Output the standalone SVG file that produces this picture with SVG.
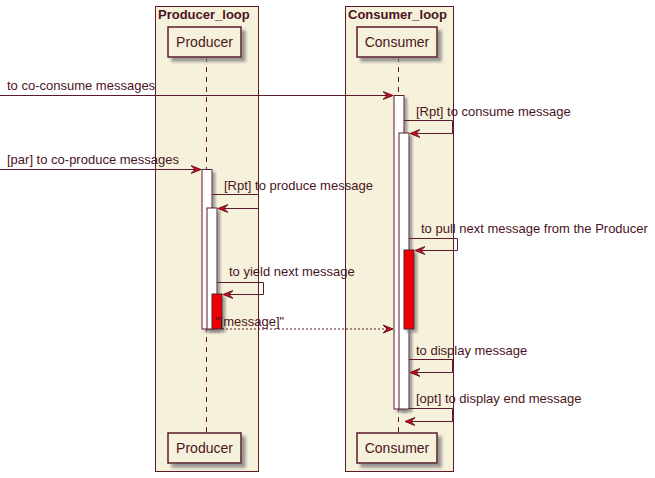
<svg xmlns="http://www.w3.org/2000/svg" width="655" height="478" viewBox="0 0 655 478">
<style>
.box{fill:#F6F1DB;stroke:#5b1a2e;stroke-width:1}
.title{font-family:"Liberation Sans",Arial,sans-serif;font-size:13px;font-weight:bold;fill:#4a1422}
.part{fill:#F6F1DB;stroke:#5b1a2e;stroke-width:1.5;filter:url(#sh)}
.ptext{font-family:"Liberation Sans",Arial,sans-serif;font-size:14px;fill:#4a1422;text-anchor:middle}
.life{stroke:#5b1a2e;stroke-width:1;stroke-dasharray:5,5;fill:none}
.act{fill:#FFFFFF;stroke:#5b1a2e;stroke-width:1;filter:url(#sh2)}
.actr{fill:#EE0000;stroke:#5b1a2e;stroke-width:1;filter:url(#sh2)}
.msg{stroke:#5b1a2e;stroke-width:1;fill:none;marker-end:url(#ah)}
.dash{stroke-dasharray:2,2}
.mtext{font-family:"Liberation Sans",Arial,sans-serif;font-size:13px;fill:#4a1422}
</style>
<defs>
<filter id="sh" x="-20%" y="-20%" width="150%" height="150%">
<feDropShadow dx="4" dy="4" stdDeviation="1.5" flood-color="#808080" flood-opacity="0.8"/>
</filter>
<filter id="sh2" x="-50%" y="-10%" width="200%" height="130%">
<feDropShadow dx="3" dy="3" stdDeviation="1" flood-color="#808080" flood-opacity="0.7"/>
</filter>
<marker id="ah" markerUnits="userSpaceOnUse" markerWidth="12" markerHeight="10" viewBox="0 -5 12 10" refX="10" refY="0" orient="auto">
<path d="M0,-4 L10,0 L0,4 L4,0 Z" fill="#E00010" stroke="#5b1a2e" stroke-width="1"/>
</marker>
</defs>
<rect width="655" height="478" fill="#FFFFFF"/>
<g id="Producer_loop">
<rect class="box" x="155.5" y="6.5" width="103" height="465"/>
<text class="title" x="158" y="19">Producer_loop</text>
</g>
<g id="Consumer_loop">
<rect class="box" x="345.5" y="6.5" width="108" height="465"/>
<text class="title" x="348" y="19">Consumer_loop</text>
</g>
<g id="Producer">
<line class="life" x1="206.5" y1="57" x2="206.5" y2="433"/>
<rect class="part" x="168" y="27" width="73" height="30"/>
<text class="ptext" x="204.5" y="47">Producer</text>
<rect class="part" x="168" y="433" width="73" height="30"/>
<text class="ptext" x="204.5" y="453">Producer</text>
<rect class="act" x="202" y="169.5" width="10" height="159.5"/>
<rect class="act" x="207" y="208" width="10" height="121"/>
<rect class="actr" x="212" y="294" width="10" height="35"/>
</g>
<g id="Consumer">
<line class="life" x1="398.5" y1="57" x2="398.5" y2="433"/>
<rect class="part" x="357" y="27" width="80" height="30"/>
<text class="ptext" x="397" y="47">Consumer</text>
<rect class="part" x="357" y="433" width="80" height="30"/>
<text class="ptext" x="397" y="453">Consumer</text>
<rect class="act" x="394" y="95.5" width="10" height="313.5"/>
<rect class="act" x="399" y="133" width="10" height="276"/>
<rect class="actr" x="404" y="250" width="10" height="79"/>
</g>
<g id="connectors">
<line class="msg" x1="0" y1="95.5" x2="393" y2="95.5"/>
<text class="mtext" x="7" y="90">to co-consume messages</text>
<polyline class="msg" points="404,120.5 452.5,120.5 452.5,133.5 410,133.5"/>
<text class="mtext" x="416" y="116">[Rpt] to consume message</text>
<line class="msg" x1="0" y1="169.5" x2="201" y2="169.5"/>
<text class="mtext" x="7" y="164">[par] to co-produce messages</text>
<polyline class="msg" points="212,194.5 258.5,194.5 258.5,208.5 218,208.5"/>
<text class="mtext" x="224" y="190">[Rpt] to produce message</text>
<polyline class="msg" points="409,238.5 457.5,238.5 457.5,250.5 415,250.5"/>
<text class="mtext" x="421" y="233">to pull next message from the Producer</text>
<polyline class="msg" points="217,282.5 263.5,282.5 263.5,294.5 223,294.5"/>
<text class="mtext" x="229" y="276">to yield next message</text>
<line class="msg dash" x1="222" y1="329" x2="393" y2="329"/>
<text class="mtext" x="215" y="326">"[message]"</text>
<polyline class="msg" points="409,359.5 452.5,359.5 452.5,372.5 410,372.5"/>
<text class="mtext" x="416" y="355">to display message</text>
<polyline class="msg" points="409,408.5 452.5,408.5 452.5,421.5 405,421.5"/>
<text class="mtext" x="416" y="403">[opt] to display end message</text>
</g>
</svg>
